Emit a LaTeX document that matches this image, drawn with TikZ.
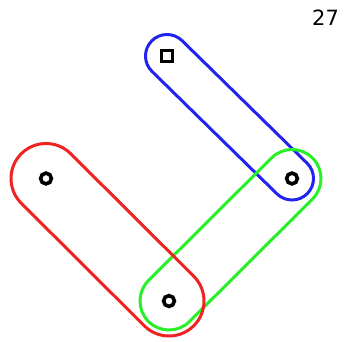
\documentclass[tikz,border=0pt]{standalone}
\usepackage{fontspec}
\setsansfont{DejaVu Sans}
\usetikzlibrary{calc}

\definecolor{hblue}{RGB}{35,35,240}
\definecolor{hgreen}{RGB}{40,240,40}
\definecolor{hred}{RGB}{240,35,35}

% stadium round two vertices: from, to, radius, colour
\newcommand{\hyperedge}[4]{%
  \draw[#4,line width=3pt] let \p1=($(#2.center)-(#1.center)$), \n1={atan2(\y1,\x1)} in
    ($(#1.center)!#3!90:(#2.center)$) -- ($(#2.center)!#3!-90:(#1.center)$)
    arc[start angle=\n1+90, end angle=\n1-90, radius=#3]
    -- ($(#1.center)!#3!-90:(#2.center)$)
    arc[start angle=\n1-90, end angle=\n1-270, radius=#3] -- cycle;}

\begin{document}
\begin{tikzpicture}[x=1pt,y=1pt,
  vtx/.style={circle,draw,line width=3.6pt,minimum size=10.8pt,inner sep=0pt},
  sqv/.style={rectangle,draw,line width=3.6pt,minimum size=10.8pt,inner sep=0pt}]
  \useasboundingbox (0,0) rectangle (347,341);
  \node[sqv] (s) at (167,285) {};
  \node[vtx] (a) at (292,162.5) {};
  \node[vtx] (b) at (46,162.5) {};
  \node[vtx] (c) at (169,40) {};
  \node[inner sep=0pt,font=\sffamily\fontsize{21}{25}\selectfont] (lbl) at (325.5,323.5) {27};
  \hyperedge{s}{a}{21.5pt}{hblue}
  \hyperedge{a}{c}{29pt}{hgreen}
  \hyperedge{b}{c}{35pt}{hred}
\end{tikzpicture}
\end{document}
